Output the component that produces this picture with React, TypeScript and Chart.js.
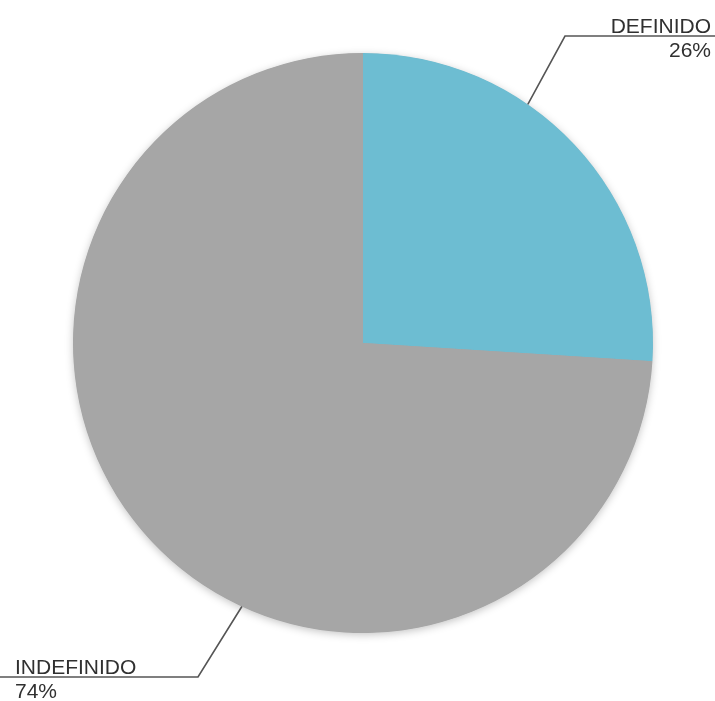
import React, { useEffect, useRef } from "react";
import { Chart, registerables } from "chart.js";

Chart.register(...registerables);

const categories = ["DEFINIDO", "INDEFINIDO"];
const values = [26, 74];
const percentLabels = ["26%", "74%"];
const colors = ["#6dbdd2", "#a6a6a6"];

// label styling: anchor offset (fraction along the arc), elbow, text placement
const labelLayout = [
  { frac: 0.37, elbowX: 565, elbowY: 36, lineEndX: 715, textX: 711, align: "right" as CanvasTextAlign },
  { frac: 0.417, elbowX: 198, elbowY: 677, lineEndX: 0, textX: 15, align: "left" as CanvasTextAlign },
];

const shadowPlugin = {
  id: "pieShadow",
  beforeDatasetsDraw(chart: any) {
    const ctx = chart.ctx;
    const arc = chart.getDatasetMeta(0).data[0];
    if (!arc) return;
    const { x, y, outerRadius } = arc.getProps(["x", "y", "outerRadius"], true);
    ctx.save();
    ctx.shadowColor = "rgba(0,0,0,0.25)";
    ctx.shadowBlur = 8;
    ctx.shadowOffsetX = 0;
    ctx.shadowOffsetY = 2;
    ctx.fillStyle = "#a6a6a6";
    ctx.beginPath();
    ctx.arc(x, y, outerRadius - 0.5, 0, Math.PI * 2);
    ctx.fill();
    ctx.restore();
  },
};

const labelPlugin = {
  id: "leaderLabels",
  afterDraw(chart: any) {
    const ctx = chart.ctx;
    const meta = chart.getDatasetMeta(0);
    meta.data.forEach((arc: any, i: number) => {
      const L = labelLayout[i];
      const { x, y, startAngle, endAngle, outerRadius } = arc.getProps(
        ["x", "y", "startAngle", "endAngle", "outerRadius"],
        true
      );
      const a = startAngle + (endAngle - startAngle) * L.frac;
      const ax = x + Math.cos(a) * outerRadius;
      const ay = y + Math.sin(a) * outerRadius;
      ctx.save();
      ctx.strokeStyle = "#555555";
      ctx.lineWidth = 1.6;
      ctx.beginPath();
      ctx.moveTo(ax, ay);
      ctx.lineTo(L.elbowX, L.elbowY);
      ctx.lineTo(L.lineEndX, L.elbowY);
      ctx.stroke();
      ctx.fillStyle = "#303030";
      ctx.font = "21px 'Liberation Sans', Arial, sans-serif";
      ctx.textAlign = L.align;
      ctx.textBaseline = "alphabetic";
      ctx.fillText(categories[i], L.textX, L.elbowY - 3);
      ctx.fillText(percentLabels[i], L.textX, L.elbowY + 21);
      ctx.restore();
    });
  },
};

export default function App() {
  const ref = useRef<HTMLCanvasElement | null>(null);
  useEffect(() => {
    document.body.style.margin = "0";
    const chart = new Chart(ref.current as HTMLCanvasElement, {
      type: "pie",
      data: {
        labels: categories,
        datasets: [
          {
            data: values,
            backgroundColor: colors,
            borderWidth: 0,
          },
        ],
      },
      options: {
        responsive: false,
        animation: false,
        layout: { padding: { left: 73, right: 62, top: 53, bottom: 68 } },
        plugins: {
          legend: { display: false },
          tooltip: { enabled: false },
        },
      },
      plugins: [shadowPlugin, labelPlugin],
    });
    return () => chart.destroy();
  }, []);
  return (
    <div style={{ width: 715, height: 701, background: "#fff" }}>
      <canvas ref={ref} width={715} height={701} />
    </div>
  );
}
